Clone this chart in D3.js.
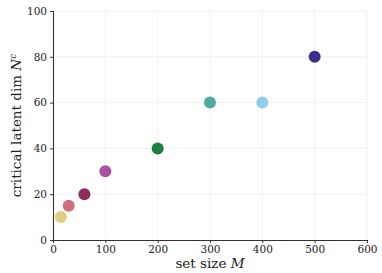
<!DOCTYPE html>
<html>
<head>
<meta charset="utf-8">
<script src="https://cdn.jsdelivr.net/npm/d3@7"></script>
<style>
  body { margin: 0; background: #fff; }
  svg { display: block; }
  svg text { font-family: "DejaVu Serif", "Liberation Serif", serif; }
</style>
</head>
<body>
<div id="chart"></div>
<script>
// data
const setSize = [15, 30, 60, 100, 200, 300, 400, 500];
const latentDim = [10, 15, 20, 30, 40, 60, 60, 80];
const colors = ["#DDCC77", "#CC6677", "#882255", "#AA4499", "#117733", "#44AA99", "#88CCEE", "#332288"];
const xTicks = [0, 100, 200, 300, 400, 500, 600];
const yTicks = [0, 20, 40, 60, 80, 100];

const width = 382, height = 273;
const margin = { top: 11, right: 15, bottom: 33, left: 53 };
const font = "DejaVu Serif";

const svg = d3.select("#chart").append("svg")
    .attr("width", width)
    .attr("height", height);

const x = d3.scaleLinear().domain([0, 600]).range([margin.left, width - margin.right]);
const y = d3.scaleLinear().domain([0, 100]).range([height - margin.bottom, margin.top]);

// light grid
const grid = svg.append("g").attr("stroke", "#ebebeb").attr("stroke-width", 0.7);
grid.selectAll("line.v")
    .data(xTicks.slice(1))
    .join("line")
    .attr("x1", d => x(d)).attr("x2", d => x(d))
    .attr("y1", y(0)).attr("y2", y(100));
grid.selectAll("line.h")
    .data(yTicks.slice(1))
    .join("line")
    .attr("x1", x(0)).attr("x2", x(600))
    .attr("y1", d => y(d)).attr("y2", d => y(d));

// axes
const xAxis = svg.append("g")
    .attr("transform", `translate(0,${y(0)})`)
    .call(d3.axisBottom(x).tickValues(xTicks).tickSize(3).tickPadding(3));
const yAxis = svg.append("g")
    .attr("transform", `translate(${x(0)},0)`)
    .call(d3.axisLeft(y).tickValues(yTicks).tickSize(3).tickPadding(3));

for (const ax of [xAxis, yAxis]) {
    ax.attr("font-family", font).attr("font-size", 10.5);
    ax.select(".domain").attr("stroke", "#333").attr("stroke-width", 1.1);
    ax.selectAll(".tick line").attr("stroke", "#333");
    ax.selectAll("text").attr("fill", "#222");
}

// points
svg.append("g")
    .selectAll("circle")
    .data(setSize)
    .join("circle")
    .attr("cx", d => x(d))
    .attr("cy", (d, i) => y(latentDim[i]))
    .attr("r", 6)
    .attr("fill", (d, i) => colors[i])
    .attr("fill-opacity", 0.95);

// axis labels
svg.append("text")
    .attr("x", (x(0) + x(600)) / 2)
    .attr("y", height - 5)
    .attr("text-anchor", "middle")
    .attr("font-size", 13.5)
    .attr("fill", "#222")
    .html("set size <tspan font-style='italic'>M</tspan>");

svg.append("text")
    .attr("transform", `translate(21,${(y(0) + y(100)) / 2}) rotate(-90)`)
    .attr("text-anchor", "middle")
    .attr("font-size", 13.5)
    .attr("fill", "#222")
    .html("critical latent dim <tspan font-style='italic'>N</tspan><tspan font-style='italic' font-size='9px' dy='-5'>c</tspan>");
</script>
</body>
</html>
